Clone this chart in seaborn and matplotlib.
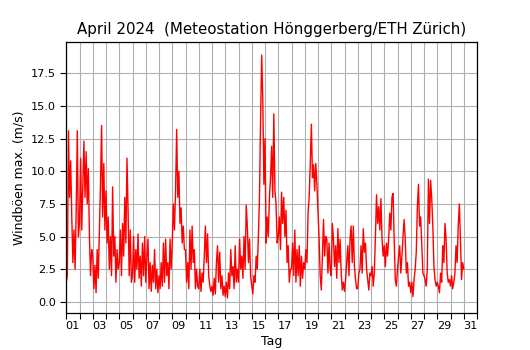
import numpy as np
import matplotlib
matplotlib.use("Agg")
import matplotlib.pyplot as plt
import seaborn as sns

# Windböen max. (m/s), Werte alle 2 Stunden (je Zeile ein Tag)
boeen = [
    1.5, 2.0, 13.1, 8.0, 10.8, 6.5, 3.0, 5.5, 2.5, 7.0, 13.1, 5.0,      # 01
    6.0, 11.0, 5.5, 9.0, 12.3, 8.0, 11.5, 7.5, 10.2, 5.0, 2.0, 4.0,     # 02
    3.5, 1.0, 2.8, 0.7, 4.0, 1.8, 5.5, 9.0, 13.5, 6.5, 10.6, 5.5,       # 03
    8.5, 4.5, 6.5, 2.5, 5.0, 2.0, 8.8, 3.5, 5.0, 1.5, 4.0, 2.5,         # 04
    3.0, 5.5, 2.0, 6.0, 3.5, 8.0, 4.5, 11.0, 7.0, 2.0, 5.5, 1.5,        # 05
    2.0, 5.0, 1.5, 4.0, 2.5, 5.2, 1.8, 3.5, 1.2, 4.5, 2.0, 5.0,         # 06
    1.5, 3.5, 4.8, 1.0, 3.0, 0.8, 2.8, 1.5, 4.0, 1.0, 2.5, 0.7,         # 07
    2.0, 1.0, 3.0, 1.2, 4.5, 1.5, 4.8, 2.0, 3.0, 1.0, 4.8, 2.5,         # 08
    4.5, 7.5, 5.5, 8.5, 13.2, 8.0, 10.0, 6.0, 7.2, 4.5, 5.8, 4.0,       # 09
    4.0, 1.5, 3.0, 1.0, 5.5, 2.5, 5.8, 3.0, 4.0, 1.0, 2.5, 1.2,         # 10
    1.0, 2.5, 0.8, 2.2, 1.5, 3.5, 5.8, 3.0, 5.2, 2.0, 1.2, 0.8,         # 11
    1.2, 0.5, 1.8, 0.6, 3.0, 4.3, 1.5, 3.8, 1.0, 2.0, 0.5, 1.2,         # 12
    0.4, 1.5, 0.3, 2.2, 1.0, 4.0, 2.0, 2.7, 1.0, 4.3, 1.5, 2.5,         # 13
    1.5, 4.8, 2.5, 3.5, 1.8, 5.0, 2.5, 7.4, 5.8, 3.0, 4.8, 2.0,         # 14
    1.2, 0.6, 2.0, 1.5, 3.5, 2.5, 5.0, 8.0, 14.0, 18.9, 15.5, 9.0,      # 15
    12.5, 4.5, 6.5, 5.0, 8.0, 9.5, 11.9, 8.0, 14.4, 8.5, 7.5, 4.5,      # 16
    5.0, 6.5, 4.0, 8.4, 6.0, 8.0, 5.0, 7.0, 3.0, 4.3, 1.5, 2.5,         # 17
    2.5, 4.5, 2.0, 5.5, 1.5, 4.0, 2.0, 4.3, 1.2, 3.5, 1.8, 3.0,         # 18
    2.5, 4.0, 3.0, 6.8, 8.0, 10.6, 13.6, 9.5, 10.5, 8.5, 10.6, 9.0,     # 19
    7.0, 4.8, 2.0, 0.9, 3.5, 6.3, 3.5, 5.0, 4.8, 2.2, 4.5, 2.5,         # 20
    2.0, 6.0, 4.8, 2.7, 4.3, 1.8, 5.6, 3.0, 4.8, 2.2, 0.9, 1.5,         # 21
    0.8, 1.7, 3.0, 4.3, 2.0, 4.8, 5.8, 3.0, 5.8, 2.7, 1.7, 1.0,         # 22
    1.0, 2.2, 2.5, 4.3, 2.2, 5.6, 3.8, 4.5, 2.5, 1.7, 0.9, 2.2,         # 23
    2.0, 2.7, 1.2, 2.2, 5.0, 8.2, 6.0, 7.3, 5.5, 7.9, 4.8, 3.5,         # 24
    4.3, 2.7, 4.5, 3.5, 4.8, 6.8, 5.5, 8.0, 8.3, 4.8, 1.7, 1.2,         # 25
    2.5, 3.5, 4.3, 2.2, 3.5, 5.0, 6.3, 4.8, 2.2, 3.0, 1.2, 1.5,         # 26
    0.7, 1.5, 0.4, 1.7, 2.5, 3.8, 7.3, 9.0, 5.8, 6.5, 4.3, 2.2,         # 27
    2.0, 1.7, 1.2, 2.5, 9.4, 6.0, 9.3, 7.9, 5.8, 2.7, 1.7, 1.2,         # 28
    1.5, 1.2, 0.7, 2.2, 1.5, 4.3, 3.0, 6.0, 4.8, 2.2, 1.5, 1.7,         # 29
    1.2, 2.0, 1.0, 1.5, 2.2, 4.3, 3.0, 5.8, 7.5, 4.8, 1.7, 3.0,         # 30
    2.5,
]
werte_pro_tag = 12
tag_labels = ["%02d" % d for d in range(1, 32, 2)]
y_ticks = [0.0, 2.5, 5.0, 7.5, 10.0, 12.5, 15.0, 17.5]

sns.set_style("ticks")
plt.rcParams["font.family"] = ["DejaVu Sans"]

# Zeitachse in Tagen ab 1. April 00:00
zeit = np.arange(len(boeen)) / werte_pro_tag

fig, ax = plt.subplots(figsize=(5.3, 3.5), dpi=100)
fig.subplots_adjust(left=0.125, right=0.9, bottom=0.106, top=0.88)

sns.lineplot(x=zeit, y=boeen, color="red", linewidth=1.0, ax=ax)

# Gitter an den Tagesgrenzen, Beschriftung in der Tagesmitte
ax.set_xlim(0, 31)
ax.set_xticks(range(0, 32))
ax.set_xticklabels([])
ax.set_xticks([d - 0.5 for d in range(1, 32, 2)], minor=True)
ax.set_xticklabels(tag_labels, minor=True)
ax.tick_params(axis="x", which="minor", length=0, labelsize=8.1, pad=6, colors="black")
ax.tick_params(axis="x", which="major", length=4, width=0.8, colors="black")
ax.set_yticks(y_ticks)
ax.set_ylim(-0.85, 19.9)
ax.tick_params(axis="y", length=4, width=0.8, labelsize=8.1, colors="black")

ax.grid(True, which="major", color="#b0b0b0", linewidth=0.8)
for s in ax.spines.values():
    s.set_color("black")
    s.set_linewidth(0.9)

ax.set_title("April 2024  (Meteostation Hönggerberg/ETH Zürich)", fontsize=10.8, color="black")
ax.set_xlabel("Tag", fontsize=9, color="black", labelpad=3)
ax.set_ylabel("Windböen max. (m/s)", fontsize=9, color="black")

fig.savefig("out.png", dpi=100)
